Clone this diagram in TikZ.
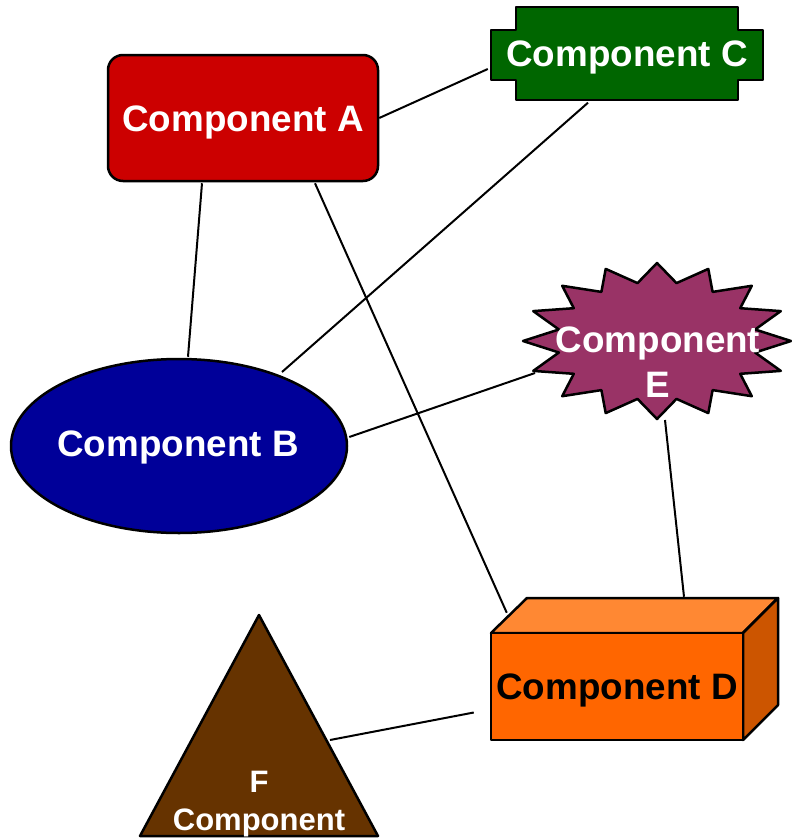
\documentclass[tikz,border=0pt]{standalone}
\usepackage{fontspec}
\setmainfont{Liberation Sans}
\usetikzlibrary{calc,shapes.geometric}
\definecolor{redA}{HTML}{CC0000}
\definecolor{greenC}{HTML}{006600}
\definecolor{blueB}{HTML}{000099}
\definecolor{plumE}{HTML}{993366}
\definecolor{orangeD}{HTML}{FF6600}
\definecolor{orangeDtop}{HTML}{FF8833}
\definecolor{orangeDside}{HTML}{CC5500}
\definecolor{brownF}{HTML}{663300}
\begin{document}
\begin{tikzpicture}[x=1pt,y=-1pt,
  lbl/.style={font=\fontsize{36.8}{45}\selectfont\bfseries, align=center, inner sep=0pt, text depth=0pt},
  outline/.style={draw=black, line width=2.5pt, line join=round},
  conn/.style={draw=black, line width=2pt}]
\useasboundingbox (0,0) rectangle (792,838);

% Component A
\node[outline, rounded corners=15pt, fill=redA, minimum width=270pt, minimum height=126pt] (A) at (243,118) {};
\node[lbl, text=white] (Atext) at (243,118.5) {Component A};

% Component C
\draw[outline, fill=greenC] (516,7) -- (738,7) -- (738,30) -- (763,30) -- (763,80) -- (738,80) -- (738,100) -- (516,100) -- (516,80) -- (491,80) -- (491,30) -- (516,30) -- cycle;
\node[minimum width=272pt, minimum height=93pt] (C) at (627,54) {};
\node[lbl, text=white] (Ctext) at (627,53.5) {Component C};

% Component B
\node[outline, ellipse, fill=blueB, minimum width=336pt, minimum height=174pt] (B) at (179,446) {};
\node[lbl, text=white] (Btext) at (178,444) {Component B};

% Component E
\coordinate (E) at (657,341);
\draw[outline, fill=plumE, shift={(657,341)}]
  (0,-78) -- (-19.5,-57.9) -- (-51.3,-72.1) -- (-55.6,-49.1) -- (-94.8,-55.2) -- (-83.2,-32.8) --
  (-123.8,-29.9) -- (-98.1,-11.5) -- (-134,0) -- (-98.1,11.5) -- (-123.8,29.9) -- (-83.2,32.8) --
  (-94.8,55.2) -- (-55.6,49.1) -- (-51.3,72.1) -- (-19.5,57.9) -- (0,78) -- (19.5,57.9) --
  (51.3,72.1) -- (55.6,49.1) -- (94.8,55.2) -- (83.2,32.8) -- (123.8,29.9) -- (98.1,11.5) --
  (134,0) -- (98.1,-11.5) -- (123.8,-29.9) -- (83.2,-32.8) -- (94.8,-55.2) -- (55.6,-49.1) --
  (51.3,-72.1) -- (19.5,-57.9) -- cycle;
\node[lbl, text=white] (Etext) at (658,362) {Component\\E};

% Component D
\draw[outline, fill=orangeDtop] (491,633) -- (527,598) -- (778,598) -- (743,633) -- cycle;
\draw[outline, fill=orangeDside] (743,633) -- (778,598) -- (778,705) -- (743,740) -- cycle;
\node[outline, fill=orangeD, minimum width=252pt, minimum height=107pt] (D) at (617,686.5) {};
\node[lbl, text=black] (Dtext) at (617,687) {Component D};

% Component F
\draw[outline, fill=brownF] (259,615) -- (378,836) -- (140,836) -- cycle;
\node[lbl, font=\fontsize{31}{38.5}\selectfont\bfseries, text=white] (F) at (259,801) {F\\Component};

% connectors
\draw[conn] (A.east) -- ($(C.west)+(-3,15)$);
\draw[conn] ($(C.south)+(-39,2)$) -- ($(B.center)+(103,-74)$);
\draw[conn] ($(A.south)+(-41,1)$) -- ($(B.north)+(9,-1)$);
\draw[conn] ($(A.south)+(72,1)$) -- ($(D.north west)+(17,-19)$);
\draw[conn] ($(B.east)+(1,-9)$) -- ($(E)+(-122,32)$);
\draw[conn] ($(E)+(8,79)$) -- ($(D.north)+(67,-35)$);
\draw[conn] ($(D.west)+(-16,26)$) -- ($(F)+(71,-61)$);
\end{tikzpicture}
\end{document}
